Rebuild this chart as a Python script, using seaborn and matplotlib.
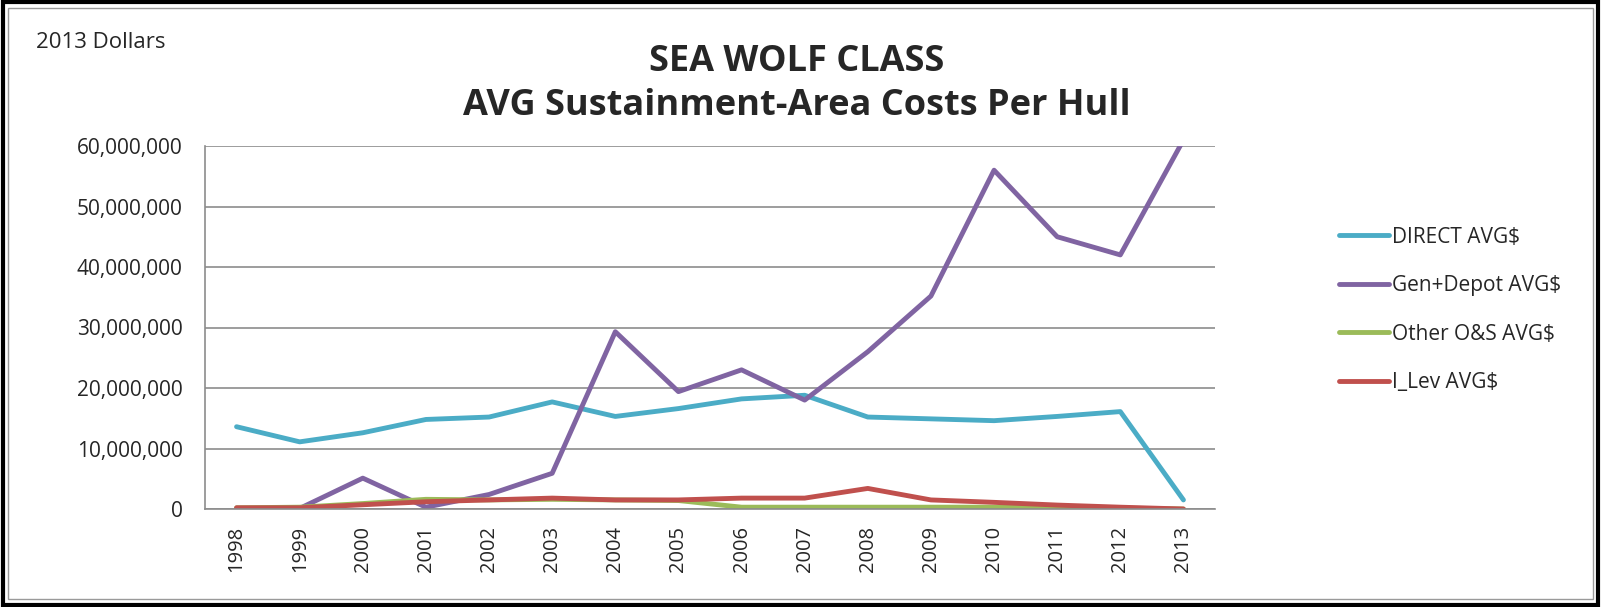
import pandas as pd
import matplotlib.pyplot as plt
import seaborn as sns
from matplotlib.patches import Rectangle
from matplotlib.ticker import FuncFormatter

# values (millions of 2013 dollars)
years = ["1998", "1999", "2000", "2001", "2002", "2003", "2004", "2005",
         "2006", "2007", "2008", "2009", "2010", "2011", "2012", "2013"]
direct = [13.6, 11.1, 12.6, 14.8, 15.2, 17.7, 15.3, 16.6,
          18.2, 18.8, 15.2, 14.9, 14.6, 15.3, 16.1, 1.5]
gen_depot = [0.0, 0.1, 5.1, 0.3, 2.4, 5.9, 29.3, 19.4,
             23.0, 18.0, 26.0, 35.2, 56.0, 45.0, 42.0, 61.0]
other_os = [0.2, 0.3, 0.9, 1.6, 1.5, 1.6, 1.5, 1.4,
            0.3, 0.3, 0.3, 0.3, 0.3, 0.25, 0.15, 0.0]
i_lev = [0.2, 0.2, 0.7, 1.2, 1.5, 1.8, 1.5, 1.5,
         1.8, 1.8, 3.4, 1.5, 1.1, 0.65, 0.3, 0.0]

series = ["DIRECT AVG$", "Gen+Depot AVG$", "Other O&S AVG$", "I_Lev AVG$"]
colors = ["#4BACC6", "#8064A2", "#9BBB59", "#C0504D"]

rows = []
for name, vals in zip(series, [direct, gen_depot, other_os, i_lev]):
    for i, v in enumerate(vals):
        rows.append({"x": i, "year": years[i], "value": v * 1e6, "series": name})
df = pd.DataFrame(rows)

sns.set_style("white")
plt.rcParams['font.family'] = ['Open Sans', 'DejaVu Sans']

fig = plt.figure(figsize=(16.01, 6.07), dpi=100)
ax = fig.add_axes([205 / 1601, 1 - 509 / 607, 1010 / 1601, 363 / 607])

sns.lineplot(data=df, x="x", y="value", hue="series", palette=colors,
             linewidth=3.5, ax=ax, legend=True)

ax.set_ylim(0, 60e6)
ax.set_xlim(-0.5, len(years) - 0.5)
ax.yaxis.set_major_formatter(FuncFormatter(lambda v, p: f"{int(v):,}"))
ax.set_yticks([i * 10e6 for i in range(7)])
ax.grid(axis="y", color="#8c8c8c", linewidth=1.2)
ax.set_axisbelow(True)

# Excel style category axis: ticks between categories, labels centred
ax.set_xticks([i - 0.5 for i in range(len(years) + 1)])
ax.set_xticklabels([])
ax.set_xticks(range(len(years)), minor=True)
ax.set_xticklabels(years, minor=True, rotation=90, fontsize=14.5)
ax.tick_params(axis="x", which="major", length=8, color="#8c8c8c", width=1.2)
ax.tick_params(axis="x", which="minor", length=0, pad=12)
ax.tick_params(axis="y", length=6, color="#8c8c8c", width=1.2, labelsize=15, pad=10)
ax.set_xlabel("")
ax.set_ylabel("")
for s in ["top", "right"]:
    ax.spines[s].set_visible(False)
for s in ["left", "bottom"]:
    ax.spines[s].set_color("#8c8c8c")
    ax.spines[s].set_linewidth(1.2)

handles, labels = ax.get_legend_handles_labels()
ax.get_legend().remove()
fig.legend(handles, labels, loc="upper left", bbox_to_anchor=(1320 / 1601, 1 - 208 / 607),
           frameon=False, fontsize=15, handlelength=2.4, handletextpad=0.15,
           labelspacing=1.32)

fig.text(797 / 1601, 1 - 62 / 607, "SEA WOLF CLASS", ha="center", va="center",
         fontsize=26, fontweight="bold")
fig.text(797 / 1601, 1 - 106 / 607, "AVG Sustainment-Area Costs Per Hull", ha="center",
         va="center", fontsize=26, fontweight="bold")
fig.text(36 / 1601, 1 - 43 / 607, "2013 Dollars", ha="left", va="center", fontsize=16)

# chart border
fig.patches.append(Rectangle((0.002, 0.004), 0.996, 0.992, transform=fig.transFigure,
                             fill=False, edgecolor="black", linewidth=3))
fig.patches.append(Rectangle((8 / 1601, 8 / 607), 1 - 16 / 1601, 1 - 16 / 607,
                             transform=fig.transFigure, fill=False,
                             edgecolor="#9a9a9a", linewidth=1))

plt.savefig("out.png", dpi=100)
